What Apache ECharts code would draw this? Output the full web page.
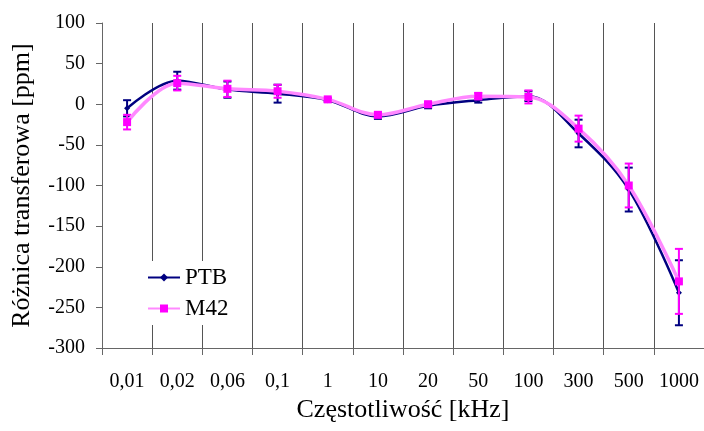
<!DOCTYPE html>
<html lang="pl">
<head>
    <meta charset="UTF-8">
    <title>Różnica transferowa</title>
    <script src="https://cdn.jsdelivr.net/npm/echarts@6.0.0/dist/echarts.min.js"></script>
    <style>
        html, body { margin: 0; padding: 0; background: #fff; }
        #chart { width: 704px; height: 431px; }
    </style>
</head>
<body>
<div id="chart"></div>
<script>
const categories = ['0,01', '0,02', '0,06', '0,1', '1', '10', '20', '50', '100', '300', '500', '1000'];
const ptb    = [-5, 29, 18, 13, 5, -15, -2, 5, 10, -36, -105, -232];
const ptbErr = [10, 11, 10, 11, 2, 3, 3, 3, 6, 17, 27, 40];
const m42    = [-22, 26, 19, 16, 6, -13, 0, 10, 9, -30, -100, -218];
const m42Err = [9, 9, 10, 8, 2, 3, 3, 4, 8, 16, 27, 40];

const FONT = "'Liberation Serif', 'Times New Roman', serif";

function errorBars(values, errs, color) {
    return {
        type: 'custom',
        data: values.map((v, i) => [i, v - errs[i], v + errs[i]]),
        renderItem: function (params, api) {
            const lo = api.coord([api.value(0), api.value(1)]);
            const hi = api.coord([api.value(0), api.value(2)]);
            const w = 4;
            const style = { stroke: color, lineWidth: 2 };
            return {
                type: 'group',
                children: [
                    { type: 'line', shape: { x1: lo[0], y1: lo[1], x2: hi[0], y2: hi[1] }, style: style },
                    { type: 'line', shape: { x1: lo[0] - w, y1: lo[1], x2: lo[0] + w, y2: lo[1] }, style: style },
                    { type: 'line', shape: { x1: hi[0] - w, y1: hi[1], x2: hi[0] + w, y2: hi[1] }, style: style }
                ]
            };
        }
    };
}

const chart = echarts.init(document.getElementById('chart'));
chart.setOption({
    animation: false,
    grid: { left: 102, right: 0, top: 23, bottom: 83 },
    legend: {
        data: ['PTB', 'M42'],
        orient: 'vertical',
        left: 142,
        top: 261,
        padding: [5, 8, 5, 5],
        itemWidth: 32,
        itemHeight: 10,
        itemGap: 8,
        backgroundColor: '#fff',
        textStyle: { fontFamily: FONT, fontSize: 23, color: '#000' }
    },
    xAxis: {
        type: 'category',
        data: categories,
        boundaryGap: true,
        name: 'Częstotliwość [kHz]',
        nameLocation: 'middle',
        nameGap: 46,
        nameTextStyle: { fontFamily: FONT, fontSize: 26, color: '#000' },
        axisLine: { onZero: false, lineStyle: { color: '#666', width: 1 } },
        axisTick: { show: true, interval: 0, length: 7, lineStyle: { color: '#666' } },
        axisLabel: { interval: 0, fontFamily: FONT, fontSize: 20, color: '#000', margin: 24 },
        splitLine: { show: true, interval: 0, lineStyle: { color: '#555', width: 1 } }
    },
    yAxis: {
        type: 'value',
        min: -300,
        max: 100,
        interval: 50,
        name: 'Różnica transferowa [ppm]',
        nameLocation: 'middle',
        nameGap: 67,
        nameTextStyle: { fontFamily: FONT, fontSize: 26, color: '#000' },
        axisLine: { show: true, lineStyle: { color: '#666', width: 1 } },
        axisTick: { show: true, length: 6, lineStyle: { color: '#666' } },
        axisLabel: { fontFamily: FONT, fontSize: 20, color: '#000', margin: 17 },
        splitLine: { show: false }
    },
    series: [
        Object.assign(errorBars(ptb, ptbErr, '#000080'), { z: 2 }),
        {
            name: 'PTB',
            type: 'line',
            data: ptb,
            smooth: 0.35,
            symbol: 'diamond',
            symbolSize: 6,
            lineStyle: { color: '#000080', width: 2.5 },
            itemStyle: { color: '#000080' },
            z: 3
        },
        Object.assign(errorBars(m42, m42Err, '#ff00ff'), { z: 4 }),
        {
            name: 'M42',
            type: 'line',
            data: m42,
            smooth: 0.35,
            symbol: 'rect',
            symbolSize: 8,
            lineStyle: { color: '#ff88ff', width: 3.5 },
            itemStyle: { color: '#ff00ff' },
            z: 5
        }
    ]
});
</script>
</body>
</html>
